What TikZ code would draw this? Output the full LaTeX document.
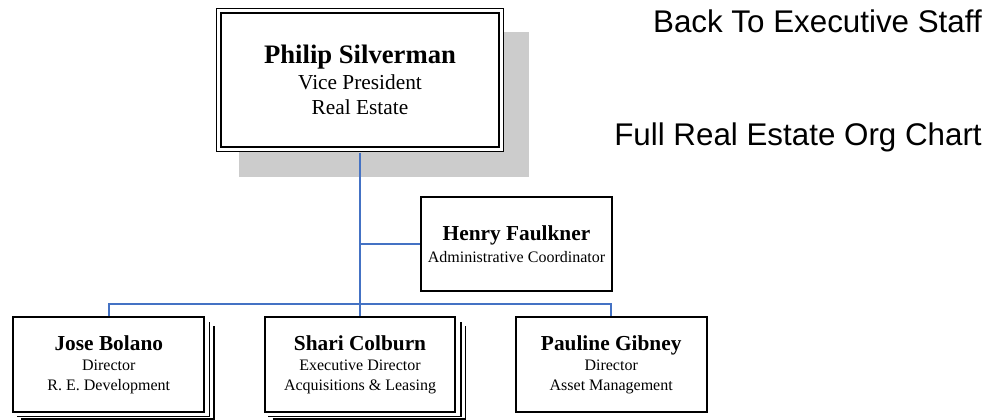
\documentclass[tikz,border=0pt]{standalone}
\usepackage{fontspec}
\setmainfont{Liberation Serif}
\newfontfamily\arialfont{Liberation Sans}
\usepackage{tikz}
\usetikzlibrary{positioning,calc}
\definecolor{linkblue}{RGB}{68,114,196}

\begin{document}
\begin{tikzpicture}[
    x=0.75pt, y=-0.75pt,
    node distance=43.9pt,
    headbox/.style={rectangle, draw=black, double=white, double distance=2pt,
                    line width=1.3pt, fill=white, minimum width=212pt,
                    minimum height=104pt, inner sep=0pt, outer sep=2.5pt,
                    align=center, font=\fontsize{16}{19}\selectfont},
    staffbox/.style={rectangle, draw=black, line width=1.5pt, fill=white,
                     minimum width=143pt, minimum height=71pt, inner sep=0pt,
                     align=center, font=\fontsize{12}{15}\selectfont},
    linkline/.style={draw=linkblue, line width=1.4pt},
    stackline/.style={draw=black, line width=1.2pt},
    navlink/.style={font=\arialfont\fontsize{23.5}{28}\selectfont,
                    inner sep=0pt, anchor=base east},
]
    \useasboundingbox (0,0) rectangle (993,420);

    % Head
    \fill[black!20] (239,32) rectangle (529,177);
    \node[headbox] (silverman) at (360,80)
        {{\fontsize{20}{19}\selectfont\bfseries Philip Silverman}\\[0.5pt]Vice President\\Real Estate};

    % Assistant
    \node[staffbox] (faulkner) at (516.5,244)
        {{\fontsize{16}{15}\selectfont\bfseries Henry Faulkner}\\[1.5pt]Administrative Coordinator};

    % Directors
    \node[staffbox] (colburn) at (360,364.5)
        {{\fontsize{16}{15}\selectfont\bfseries Shari Colburn}\\Executive Director\\Acquisitions \& Leasing};
    \node[staffbox, left=of colburn] (bolano)
        {{\fontsize{16}{15}\selectfont\bfseries Jose Bolano}\\Director\\R. E. Development};
    \node[staffbox, right=of colburn] (gibney)
        {{\fontsize{16}{15}\selectfont\bfseries Pauline Gibney}\\Director\\Asset Management};

    % Stacked edges
    \draw[stackline] ($(bolano.south west)+(4.5,3.5)$) -| ($(bolano.north east)+(4.5,6)$);
    \draw[stackline] ($(bolano.south west)+(9,6)$) -| ($(bolano.north east)+(9,10)$);
    \draw[stackline] ($(colburn.south west)+(4.5,3.5)$) -| ($(colburn.north east)+(4.5,6)$);
    \draw[stackline] ($(colburn.south west)+(9,6)$) -| ($(colburn.north east)+(9,10)$);

    % Links
    \coordinate (bus) at (360,304);
    \draw[linkline] (silverman.south) -- (colburn.north);
    \draw[linkline] (silverman.south |- faulkner.west) -- (faulkner.west);
    \draw[linkline] (bolano.north) |- (bus) -| (gibney.north);

    % Navigation
    \node[navlink] (backlink) at (982,33) {Back To Executive Staff};
    \node[navlink] (fulllink) at (982,146) {Full Real Estate Org Chart};
\end{tikzpicture}
\end{document}
